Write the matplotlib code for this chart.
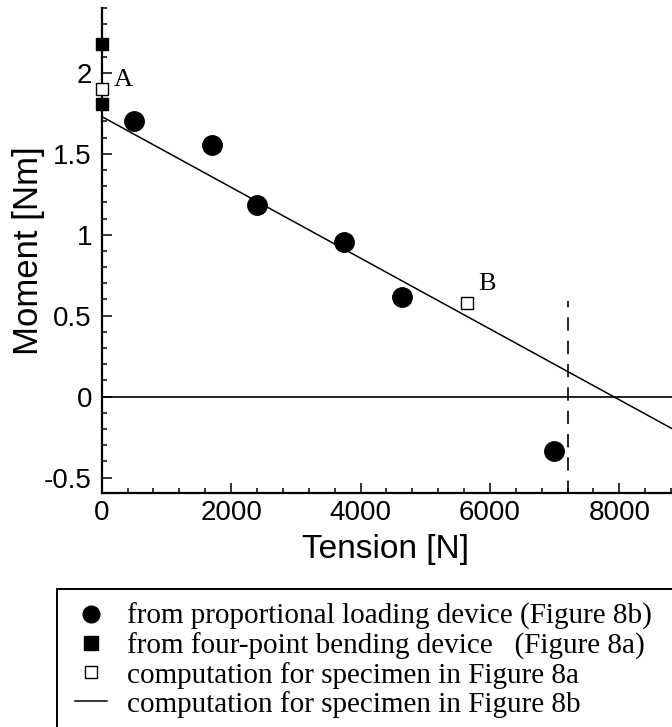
import matplotlib
matplotlib.use("Agg")
import matplotlib.pyplot as plt
from matplotlib.lines import Line2D
from matplotlib.patches import Rectangle
from matplotlib.ticker import MultipleLocator

# measured moments, proportional loading device
tension_prop = [500, 1710, 2400, 3745, 4640, 6990]
moment_prop = [1.70, 1.555, 1.185, 0.955, 0.615, -0.335]

# four-point bending device (zero tension)
tension_bend = [0, 0]
moment_bend = [2.18, 1.81]

# computed points, specimen 8a
tension_comp = [0, 5650]
moment_comp = [1.90, 0.58]
comp_labels = ["A", "B"]
label_pos = [(330, 1.955), (5955, 0.695)]

# computed line, specimen 8b
tension_line = [0, 9000]
moment_line = [1.73, -0.238]

# limit tension (dashed marker)
limit_tension = 7200
limit_top = 0.59

legend_labels = [
    "from proportional loading device (Figure 8b)",
    "from four-point bending device   (Figure 8a)",
    "computation for specimen in Figure 8a",
    "computation for specimen in Figure 8b",
]

plt.rcParams["font.family"] = ["Liberation Sans", "DejaVu Sans"]

fig = plt.figure(figsize=(6.72, 7.27), dpi=100)
ax = fig.add_axes([0.1513, 0.3223, 0.8487, 0.6667])

ax.axhline(0, color="black", lw=1.2, zorder=1)
ax.plot(tension_line, moment_line, color="black", lw=1.1, zorder=2)
ax.vlines(limit_tension, -0.6, limit_top, colors="black", lw=1.2,
          linestyles=(0, (8, 6)), zorder=2)
ax.plot(tension_prop, moment_prop, "o", color="black", ms=14, zorder=3)
ax.plot(tension_bend, moment_bend, "s", color="black", ms=9, zorder=4,
        clip_on=False)
ax.plot(tension_comp, moment_comp, "s", mfc="white", mec="black", mew=1.0,
        ms=8.5, zorder=5, clip_on=False)
for lab, (tx, ty) in zip(comp_labels, label_pos):
    ax.text(tx, ty, lab, family="Liberation Serif", fontsize=19,
            ha="center", va="center")

ax.set_xlim(0, 8814)
ax.set_ylim(-0.593, 2.4)
ax.xaxis.set_minor_locator(MultipleLocator(400))
ax.yaxis.set_minor_locator(MultipleLocator(0.1))
ax.set_xticks([0, 2000, 4000, 6000, 8000])
ax.set_xticklabels(["0", "2000", "4000", "6000", "8000"])
ax.set_yticks([-0.5, 0, 0.5, 1, 1.5, 2])
ax.set_yticklabels(["-0.5", "0", "0.5", "1", "1.5", "2"])

for side in ("top", "right"):
    ax.spines[side].set_visible(False)
for side in ("left", "bottom"):
    ax.spines[side].set_linewidth(1.6)

ax.tick_params(which="both", direction="in", width=1.1, labelsize=20)
ax.tick_params(which="major", length=7)
ax.tick_params(axis="y", which="major", pad=7)
ax.tick_params(axis="x", which="major", pad=5)
ax.tick_params(which="minor", length=3.5)

ax.set_xlabel("Tension [N]", fontsize=24)
ax.set_ylabel("Moment [Nm]", fontsize=25)
ax.xaxis.set_label_coords((386 - 101.7) / 570.3, -0.085)
ax.yaxis.set_label_coords(-0.1, 0.5)

# legend box (open to the right and bottom)
box = Rectangle((57 / 672, -0.1), 1.2, (727 - 589) / 727 + 0.1,
                transform=fig.transFigure, fill=False, lw=1.4,
                ec="black", clip_on=False)
fig.add_artist(box)

handles = [
    Line2D([], [], ls="none", marker="o", color="black", ms=12),
    Line2D([], [], ls="none", marker="s", color="black", ms=9.5),
    Line2D([], [], ls="none", marker="s", mfc="white", mec="black",
           mew=1.0, ms=9),
    Line2D([], [], color="black", lw=1.1),
]
fig.legend(handles, legend_labels, loc="upper left",
           bbox_to_anchor=(75 / 672, 1 - 603 / 727),
           frameon=False, prop={"family": "Liberation Serif", "size": 21},
           handlelength=1.1, handletextpad=0.68, labelspacing=0.07,
           borderpad=0, borderaxespad=0)

fig.savefig("out.png", dpi=100)
